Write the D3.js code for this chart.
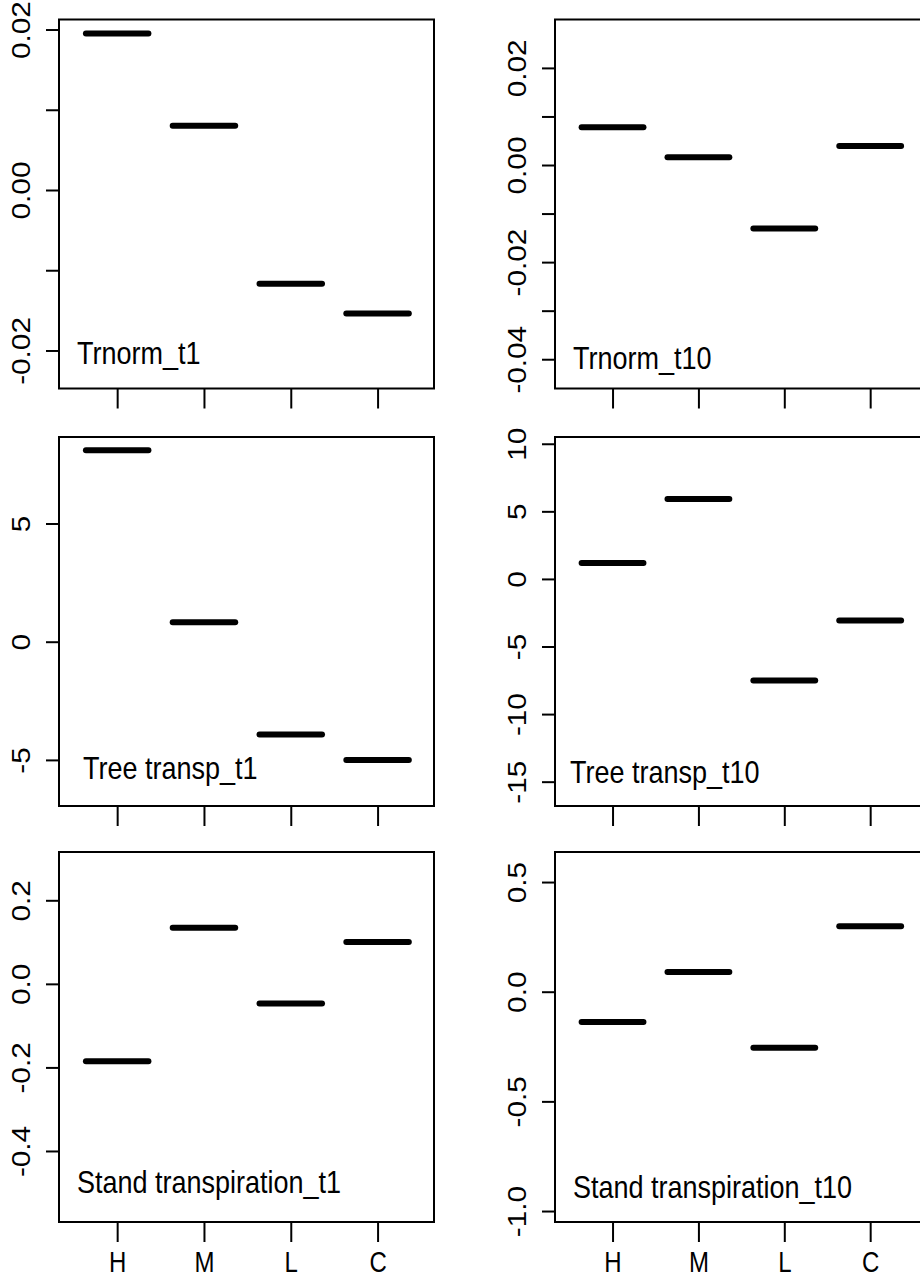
<!DOCTYPE html>
<html>
<head>
<meta charset="utf-8">
<script src="https://cdn.jsdelivr.net/npm/d3@7"></script>
<style>
  body { margin: 0; background: #fff; }
  svg { display: block; }
</style>
</head>
<body>
<svg id="chart" width="920" height="1275"></svg>
<script>
// group order on the x axis
const groups = ['H', 'M', 'L', 'C'];

// effect per group, one array per panel
const trnormT1 = [0.0195, 0.0080, -0.0117, -0.0154];
const trnormT10 = [0.0078, 0.0016, -0.0131, 0.0039];
const treeT1 = [8.10, 0.82, -3.93, -5.00];
const treeT10 = [1.18, 5.91, -7.52, -3.08];
const standT1 = [-0.185, 0.134, -0.047, 0.100];
const standT10 = [-0.138, 0.090, -0.255, 0.299];

// y limits [top, bottom] of each panel
const limTrnormT1 = [0.02125, -0.02474];
const limTrnormT10 = [0.02997, -0.04603];
const limTreeT1 = [8.66, -6.95];
const limTreeT10 = [10.5, -16.8];
const limStandT1 = [0.3156, -0.570];
const limStandT10 = [0.637, -1.050];

// y ticks and their labels ('' = tick without label, as R drops overlapping ones)
const ticksTrnormT1 = [0.02, 0.01, 0, -0.01, -0.02];
const labelsTrnormT1 = ['0.02', '', '0.00', '', '-0.02'];
const ticksTrnormT10 = [0.02, 0.01, 0, -0.01, -0.02, -0.03, -0.04];
const labelsTrnormT10 = ['0.02', '', '0.00', '', '-0.02', '', '-0.04'];
const ticksTreeT1 = [5, 0, -5];
const labelsTreeT1 = ['5', '0', '-5'];
const ticksTreeT10 = [10, 5, 0, -5, -10, -15];
const labelsTreeT10 = ['10', '5', '0', '-5', '-10', '-15'];
const ticksStandT1 = [0.2, 0, -0.2, -0.4];
const labelsStandT1 = ['0.2', '0.0', '-0.2', '-0.4'];
const ticksStandT10 = [0.5, 0, -0.5, -1.0];
const labelsStandT10 = ['0.5', '0.0', '-0.5', '-1.0'];

const titles = ['Trnorm_t1', 'Trnorm_t10', 'Tree transp_t1', 'Tree transp_t10',
                'Stand transpiration_t1', 'Stand transpiration_t10'];

const panels = [
    { title: titles[0], values: trnormT1, lim: limTrnormT1, ticks: ticksTrnormT1, labels: labelsTrnormT1 },
    { title: titles[1], values: trnormT10, lim: limTrnormT10, ticks: ticksTrnormT10, labels: labelsTrnormT10 },
    { title: titles[2], values: treeT1, lim: limTreeT1, ticks: ticksTreeT1, labels: labelsTreeT1 },
    { title: titles[3], values: treeT10, lim: limTreeT10, ticks: ticksTreeT10, labels: labelsTreeT10 },
    { title: titles[4], values: standT1, lim: limStandT1, ticks: ticksStandT1, labels: labelsStandT1 },
    { title: titles[5], values: standT10, lim: limStandT10, ticks: ticksStandT10, labels: labelsStandT10 }
];

// layout
const cols = [[59, 434], [555, 926]];
const rows = [[19.5, 388.5], [437, 806], [852, 1222]];
const titleOffset = [[18, -25], [18, -20], [24, -27], [15, -23], [18, -29], [18, -24]];
const font = '"Liberation Sans", Arial, Helvetica, sans-serif';
const stretch = 1.19;   // the original image is a bit taller than wide

const svg = d3.select('#chart');

panels.forEach((p, i) => {
    const [x0, x1] = cols[i % 2];
    const [y0, y1] = rows[Math.floor(i / 2)];
    const bottomRow = Math.floor(i / 2) === rows.length - 1;

    let x = d3.scaleLinear().domain([0.33, 4.65]).range([x0, x1]);
    let y = d3.scaleLinear().domain(p.lim).range([y0, y1]);

    let g = svg.append('g');

    // segments
    g.selectAll('line.seg')
        .data(p.values)
        .enter()
        .append('line')
        .attr('class', 'seg')
        .attr('x1', (d, j) => x(j + 1 - 0.36))
        .attr('x2', (d, j) => x(j + 1 + 0.36))
        .attr('y1', d => y(d))
        .attr('y2', d => y(d))
        .attr('stroke', '#000')
        .attr('stroke-width', 6)
        .attr('stroke-linecap', 'round');

    // left axis
    let yAxis = g.append('g')
        .attr('transform', `translate(${x0},0)`)
        .call(d3.axisLeft(y)
            .tickValues(p.ticks)
            .tickSize(13)
            .tickFormat((d, j) => p.labels[j]));
    yAxis.select('.domain').remove();
    yAxis.selectAll('line').attr('stroke-width', 2);
    yAxis.selectAll('text')
        .attr('x', null)
        .attr('dy', null)
        .attr('text-anchor', 'middle')
        .attr('transform', `translate(-29,0) scale(1,${stretch}) rotate(-90)`)
        .attr('font-family', font)
        .attr('font-size', 25)
        .attr('fill', '#000');

    // bottom axis
    let xAxis = g.append('g')
        .attr('transform', `translate(0,${y1})`)
        .call(d3.axisBottom(x)
            .tickValues([1, 2, 3, 4])
            .tickSize(20)
            .tickFormat((d, j) => bottomRow ? groups[j] : ''));
    xAxis.select('.domain').remove();
    xAxis.selectAll('line').attr('stroke-width', 2);
    xAxis.selectAll('text')
        .attr('y', null)
        .attr('dy', null)
        .attr('transform', `translate(0,50) scale(1,1.22)`)
        .attr('font-family', font)
        .attr('font-size', 24)
        .attr('fill', '#000');

    // box
    g.append('rect')
        .attr('x', x0)
        .attr('y', y0)
        .attr('width', x1 - x0)
        .attr('height', y1 - y0)
        .attr('fill', 'none')
        .attr('stroke', '#000')
        .attr('stroke-width', 2);

    // panel title
    g.append('text')
        .attr('transform', `translate(${x0 + titleOffset[i][0]},${y1 + titleOffset[i][1]}) scale(1,${stretch})`)
        .attr('font-family', font)
        .attr('font-size', 27)
        .text(p.title);
});
</script>
</body>
</html>
